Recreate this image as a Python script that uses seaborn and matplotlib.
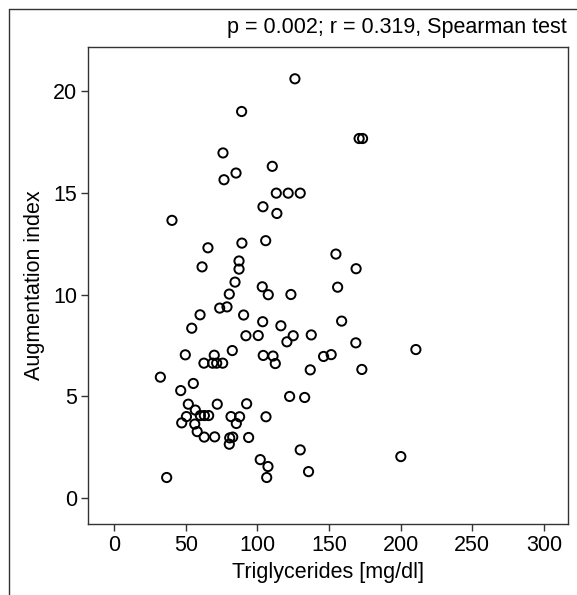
import matplotlib
matplotlib.use("Agg")
import matplotlib.pyplot as plt
import seaborn as sns
import pandas as pd
from matplotlib.lines import Line2D

# ----------------------------------------
# Data
# ----------------------------------------

triglycerides = [
    126.2, 89.0, 76.0, 110.4, 85.1, 76.7, 113.2, 121.5, 129.9, 103.9,
    113.6, 40.4, 65.5, 89.2, 105.8, 87.2, 61.4, 87.2, 84.4, 103.4,
    80.4, 107.6, 123.4, 73.7, 78.8, 60.0, 90.4, 103.7, 116.4, 54.2,
    92.0, 100.6, 125.0, 120.6, 137.6, 49.7, 69.9, 82.5, 104.1, 110.9,
    112.5, 146.2, 62.7, 68.8, 71.6, 75.8, 136.9, 32.3, 55.3, 46.5,
    122.5, 133.0, 51.8, 72.0, 92.5, 56.7, 50.5, 60.2, 63.0, 66.0,
    81.6, 87.6, 106.0, 47.2, 56.3, 85.3, 58.0, 62.9, 70.2, 80.7,
    82.8, 93.9, 80.4, 129.9, 102.0, 107.4, 106.5, 135.7, 36.7,
    171.0, 173.4, 154.8, 168.9, 156.0, 158.8, 168.7, 151.5, 172.9, 210.6, 200.1,
]
augmentation = [
    20.62, 19.01, 16.97, 16.31, 15.98, 15.65, 14.99, 14.99, 14.99, 14.32,
    13.99, 13.65, 12.30, 12.53, 12.65, 11.65, 11.36, 11.25, 10.61, 10.38,
    10.02, 9.99, 10.00, 9.33, 9.39, 9.00, 8.99, 8.66, 8.46, 8.34,
    7.97, 7.98, 7.97, 7.67, 8.01, 7.03, 7.01, 7.24, 7.00, 6.97,
    6.60, 6.95, 6.62, 6.62, 6.62, 6.62, 6.29, 5.93, 5.62, 5.27,
    4.98, 4.93, 4.60, 4.60, 4.62, 4.31, 3.99, 4.04, 4.04, 4.04,
    3.99, 3.98, 3.98, 3.68, 3.62, 3.65, 3.25, 2.98, 2.99, 2.94,
    2.98, 2.96, 2.63, 2.35, 1.87, 1.53, 0.99, 1.28, 0.99,
    17.68, 17.68, 11.99, 11.27, 10.36, 8.69, 7.62, 7.04, 6.31, 7.29, 2.02,
]

x_ticks = [0, 50, 100, 150, 200, 250, 300]
y_ticks = [0, 5, 10, 15, 20]
stat_label = "p = 0.002; r = 0.319, Spearman test"

df = pd.DataFrame({"tg": triglycerides, "ai": augmentation})

# ----------------------------------------
# Style
# ----------------------------------------

sns.set_style("ticks")
plt.rcParams["font.family"] = ["Liberation Sans", "DejaVu Sans"]
plt.rcParams["text.color"] = "black"
plt.rcParams["axes.labelcolor"] = "black"
plt.rcParams["axes.edgecolor"] = "#333333"
plt.rcParams["axes.linewidth"] = 1.0

fig = plt.figure(figsize=(5.77, 5.95), dpi=100)
ax = fig.add_axes([0.153, 0.1193, 0.832, 0.8022])

sns.scatterplot(data=df, x="tg", y="ai", ax=ax, s=44,
                facecolor="none", edgecolor="black", linewidth=1.4)

ax.set_xlim(-18, 317)
ax.set_ylim(-1.3, 22.2)
ax.set_xticks(x_ticks)
ax.set_yticks(y_ticks)
ax.tick_params(axis="both", labelsize=15.5, length=5, width=1.0,
               color="#333333", labelcolor="black", pad=3)
ax.set_xlabel("Triglycerides [mg/dl]", fontsize=15.5, labelpad=4)
ax.set_ylabel("Augmentation index", fontsize=15.5, labelpad=6)
for side in ["top", "right", "left", "bottom"]:
    ax.spines[side].set_visible(True)

# outer frame (cut off at right and bottom like the source figure)
fig.add_artist(Line2D([9 / 577, 1.0], [1 - 9 / 595, 1 - 9 / 595],
                      transform=fig.transFigure, color="#333333", lw=1.0))
fig.add_artist(Line2D([9 / 577, 9 / 577], [0.0, 1 - 9 / 595],
                      transform=fig.transFigure, color="#333333", lw=1.0))

fig.text(567 / 577, 1 - 28 / 595, stat_label, ha="right", va="center", fontsize=15.5)

fig.savefig("out.png", dpi=100)
plt.close(fig)
